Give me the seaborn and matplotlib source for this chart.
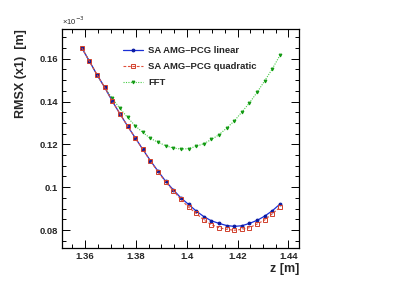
import seaborn as sns
import numpy as np
import matplotlib.pyplot as plt
from matplotlib.ticker import MultipleLocator

# z positions of the samples [m]
z = [1.3587 + 0.003 * i for i in range(27)]

# RMSX values in units of 1e-3 m
rmsx_linear = [0.1651, 0.1588, 0.1525, 0.1466, 0.1402, 0.1343, 0.1286, 0.1231, 0.1177,
               0.1124, 0.1075, 0.1028, 0.0988, 0.0950, 0.0920, 0.0889, 0.0863, 0.0843,
               0.0831, 0.0821, 0.0817, 0.0820, 0.0831, 0.0845, 0.0865, 0.0890, 0.0921]
rmsx_quad = [0.1651, 0.1588, 0.1525, 0.1466, 0.1402, 0.1343, 0.1286, 0.1231, 0.1177,
             0.1122, 0.1072, 0.1024, 0.0984, 0.0943, 0.0907, 0.0878, 0.0847, 0.0825,
             0.0811, 0.0803, 0.0799, 0.0803, 0.0811, 0.0828, 0.0847, 0.0876, 0.0906]
rmsx_fft = [0.1651, 0.1588, 0.1525, 0.1466, 0.1415, 0.1368, 0.1326, 0.1287, 0.1256,
            0.1228, 0.1210, 0.1194, 0.1183, 0.1178, 0.1180, 0.1191, 0.1203, 0.1223,
            0.1245, 0.1276, 0.1309, 0.1351, 0.1394, 0.1443, 0.1497, 0.1553, 0.1616]

sns.set_theme(style="ticks")
plt.rcParams['font.family'] = ['Liberation Sans', 'DejaVu Sans']

fig = plt.figure(figsize=(4.15, 2.96), dpi=100)
ax = fig.add_axes([62 / 415, 48 / 296, 237 / 415, 219 / 296])

sns.lineplot(x=z, y=rmsx_fft, ax=ax, color="#44cc44", lw=0.8, marker="v", ms=2.0,
             mfc="#119911", mec="#119911", label="FFT", zorder=2)
ax.lines[-1].set_linestyle((0, (1, 1.2)))
sns.lineplot(x=z, y=rmsx_linear, ax=ax, color="#1a2fd6", lw=0.9, marker="o", ms=2.0,
             mfc="#0a1aa0", mec="#0a1aa0", label="SA AMG\u2013PCG linear", zorder=3)
sns.lineplot(x=z, y=rmsx_quad, ax=ax, color="#e0503c", lw=0.8, marker="s", ms=2.6,
             mfc="none", mec="#d0402c", mew=0.7, label="SA AMG\u2013PCG quadratic", zorder=4)
ax.lines[-1].set_linestyle((0, (2.5, 1.5)))

ax.set_xlim(1.3509, 1.4442)
ax.set_ylim(0.0716, 0.1739)
ax.xaxis.set_major_locator(MultipleLocator(0.02))
ax.xaxis.set_minor_locator(MultipleLocator(0.005))
ax.yaxis.set_major_locator(MultipleLocator(0.02))
ax.yaxis.set_minor_locator(MultipleLocator(0.005))
ax.set_xticklabels([f"{t:g}" for t in ax.get_xticks()])
ax.set_yticklabels([f"{t:g}" for t in ax.get_yticks()])
ax.tick_params(which="both", direction="in", top=True, right=True, color="black",
               labelsize=6.8, pad=3)
ax.tick_params(which="major", length=6, width=0.7)
ax.tick_params(which="minor", length=3, width=0.7)
for lab in ax.get_xticklabels() + ax.get_yticklabels():
    lab.set_fontweight("bold")
for sp in ax.spines.values():
    sp.set_linewidth(0.9)
    sp.set_color("black")

ax.set_xlabel("z [m]", fontsize=9, fontweight="bold", loc="right", labelpad=1)
ax.set_ylabel("RMSX (x1)  [m]", fontsize=9, fontweight="bold", loc="top", labelpad=9)
ax.text(0.0, 1.01, "\u00d710$^{-3}$", transform=ax.transAxes, fontsize=5.5,
        ha="left", va="bottom")

# legend order as in the reference
handles, labels = ax.get_legend_handles_labels()
order = [1, 2, 0]
leg = ax.legend([handles[i] for i in order], [labels[i] for i in order],
                loc="upper left", bbox_to_anchor=(0.22, 0.96), frameon=False,
                fontsize=6.8, handlelength=2.2, handletextpad=0.5, labelspacing=0.75)
for t in leg.get_texts():
    t.set_fontweight("bold")

fig.savefig("out.png", dpi=100)
